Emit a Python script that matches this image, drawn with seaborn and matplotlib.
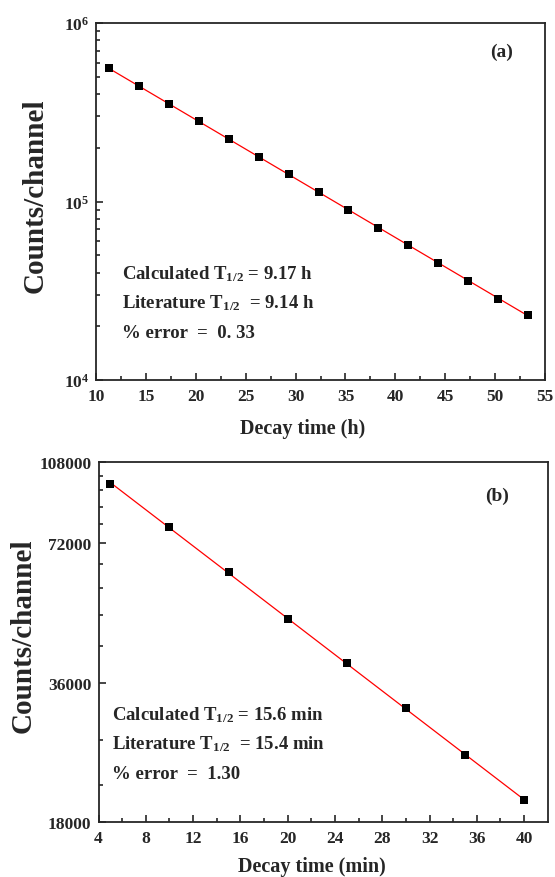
import numpy as np
import pandas as pd
import matplotlib
matplotlib.use('Agg')
import matplotlib.pyplot as plt
import matplotlib.ticker as ticker
import seaborn as sns

# data

# (a) hours
Time_h = [11.3, 14.3, 17.3, 20.3, 23.3, 26.3, 29.3, 32.3, 35.3, 38.3, 41.3, 44.3, 47.3, 50.3, 53.3]
Counts_a = [557000, 442000, 352000, 281600, 224200, 178600, 142200, 113300,
            90200, 71500, 57000, 45000, 36100, 28400, 23200]

# (b) minutes
Time_min = [5, 10, 15, 20, 25, 30, 35, 40]
Counts_b = [96660, 78000, 62400, 49320, 39700, 31770, 25100, 20060]

Ticks_a = [1e4, 1e5, 1e6]
Tick_labels_a = [r'$10^{4}$', r'$10^{5}$', r'$10^{6}$']
Ticks_b = [18000, 36000, 72000, 108000]
Tick_labels_b = ['18000', '36000', '72000', '108000']
Minor_b = [21600, 27000, 43200, 50400, 57600, 64800, 79200, 86400, 93600, 100800]

Text_a = [r'Calculated T$_{1/2}$ = 9.17 h', r'Literature T$_{1/2}$  = 9.14 h', '% error  =  0. 33']
Text_b = [r'Calculated T$_{1/2}$ = 15.6 min', r'Literature T$_{1/2}$  = 15.4 min', '% error  =  1.30']

sns.set_style('ticks')
plt.rcParams['font.family'] = ['Liberation Serif', 'DejaVu Serif']
plt.rcParams['font.weight'] = 'bold'
plt.rcParams['mathtext.fontset'] = 'custom'
plt.rcParams['mathtext.rm'] = 'Liberation Serif:bold'
plt.rcParams['mathtext.it'] = 'Liberation Serif:bold'
plt.rcParams['mathtext.bf'] = 'Liberation Serif:bold'

fig = plt.figure(figsize=(5.55, 8.78), dpi=100)
ax1 = fig.add_axes([0.173, 0.566, 0.809, 0.4066])
ax2 = fig.add_axes([0.1775, 0.0626, 0.8094, 0.4104])


def draw_panel(ax, x, y):
    df = pd.DataFrame({'t': x, 'c': y})
    # exponential fit (straight line on log axis)
    k, b = np.polyfit(df['t'], np.log(df['c']), 1)
    fit = pd.DataFrame({'t': [df['t'].min(), df['t'].max()]})
    fit['c'] = np.exp(b + k * fit['t'])
    sns.lineplot(data=fit, x='t', y='c', ax=ax, color='red', linewidth=0.9)
    sns.scatterplot(data=df, x='t', y='c', ax=ax, marker='s', color='black',
                    s=40, linewidth=0, zorder=3)
    ax.set_yscale('log')
    for sp in ax.spines.values():
        sp.set_linewidth(1.3)
    ax.tick_params(which='both', direction='in', top=False, right=False,
                   width=1.2, labelsize=12.5)
    ax.tick_params(which='major', length=5, pad=5)
    ax.tick_params(which='minor', length=3)
    ax.tick_params(axis='x', which='major', pad=6)


# panel (a)
draw_panel(ax1, Time_h, Counts_a)
ax1.set_xlim(10, 55)
ax1.set_ylim(1e4, 1e6)
ax1.xaxis.set_major_locator(ticker.MultipleLocator(5))
ax1.xaxis.set_minor_locator(ticker.MultipleLocator(2.5))
ax1.set_yticks(Ticks_a)
ax1.set_yticklabels(Tick_labels_a)
ax1.yaxis.set_minor_locator(ticker.LogLocator(base=10, subs=np.arange(2, 10)))
ax1.yaxis.set_minor_formatter(ticker.NullFormatter())
ax1.set_xlabel('Decay time (h)', fontsize=14.5, fontweight='bold')
ax1.set_ylabel('Counts/channel', fontsize=21, fontweight='bold')
ax1.xaxis.set_label_coords(0.46, -0.105)
ax1.yaxis.set_label_coords(-0.105, 0.52)
ax1.text(0.904, 0.921, '(a)', transform=ax1.transAxes, ha='center', va='center', fontsize=14)
for i, s in enumerate(Text_a):
    ax1.text(0.057, 0.30 - i * 0.083, s, transform=ax1.transAxes, ha='left', va='center', fontsize=13.5)

# panel (b)
draw_panel(ax2, Time_min, Counts_b)
ax2.set_xlim(4, 42)
ax2.set_ylim(18000, 108000)
ax2.xaxis.set_major_locator(ticker.FixedLocator(np.arange(4, 41, 4)))
ax2.xaxis.set_minor_locator(ticker.FixedLocator(np.arange(6, 41, 4)))
ax2.set_yticks(Ticks_b)
ax2.set_yticklabels(Tick_labels_b)
ax2.yaxis.set_minor_locator(ticker.FixedLocator(Minor_b))
ax2.yaxis.set_minor_formatter(ticker.NullFormatter())
ax2.set_xlabel('Decay time (min)', fontsize=14.5, fontweight='bold')
ax2.set_ylabel('Counts/channel', fontsize=21, fontweight='bold')
ax2.xaxis.set_label_coords(0.476, -0.094)
ax2.yaxis.set_label_coords(-0.137, 0.52)
ax2.text(0.887, 0.907, '(b)', transform=ax2.transAxes, ha='center', va='center', fontsize=14)
for i, s in enumerate(Text_b):
    ax2.text(0.03, 0.30 - i * 0.082, s, transform=ax2.transAxes, ha='left', va='center', fontsize=13.5)

fig.savefig('out.png', dpi=100)
